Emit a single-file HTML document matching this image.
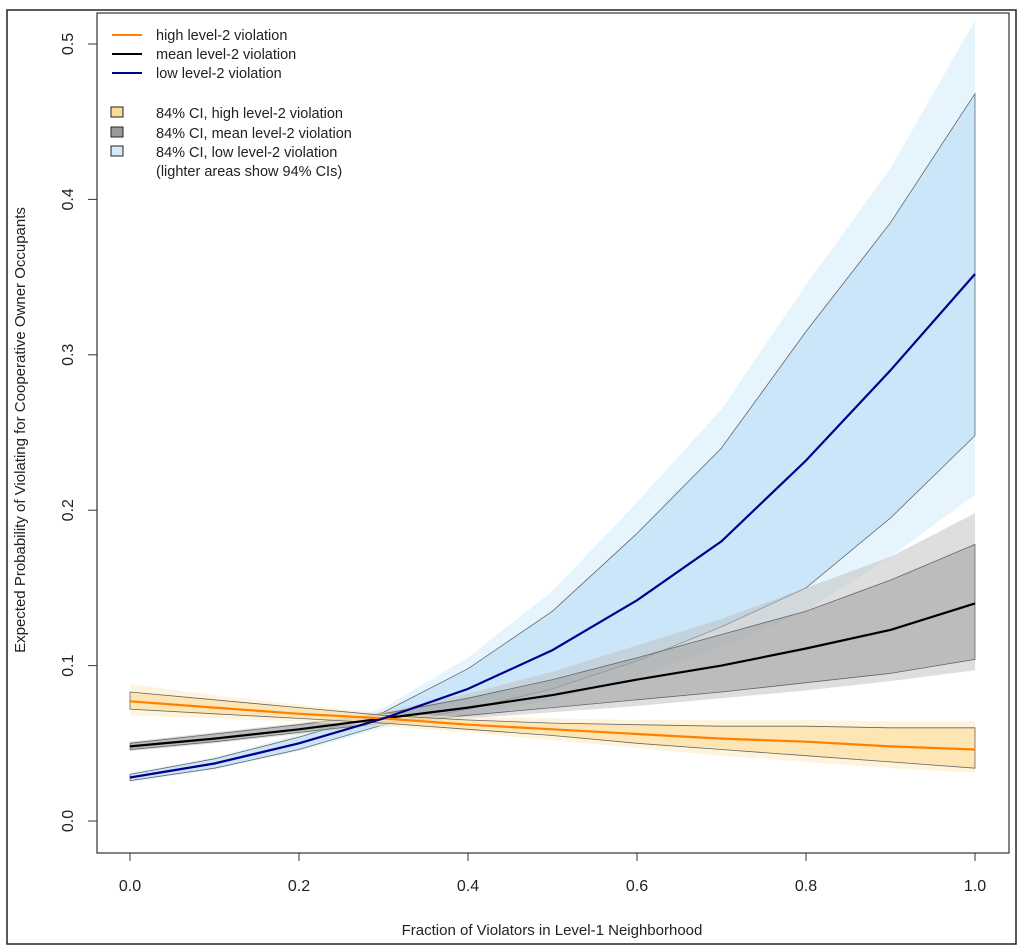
<!DOCTYPE html>
<html><head><meta charset="utf-8">
<style>
body{margin:0;background:#fff;}
svg{display:block;font-family:"Liberation Sans",Arial,sans-serif;}
</style></head>
<body>
<svg id="chart" width="1024" height="952">
<rect x="7" y="10" width="1009" height="934" fill="none" stroke="#222" stroke-width="1.5"/>
<g id="bands"></g>
<g id="lines"></g>
<rect x="97" y="13" width="912" height="840" fill="none" stroke="#333" stroke-width="1.2"/>
<g id="axes"></g>
<text x="552" y="935" text-anchor="middle" font-size="15" fill="#222">Fraction of Violators in Level-1 Neighborhood</text>
<text transform="translate(25,430) rotate(-90)" text-anchor="middle" font-size="15" fill="#222">Expected Probability of Violating for Cooperative Owner Occupants</text>
<g font-size="14.5" fill="#222">
<line x1="112" y1="35" x2="142" y2="35" stroke="#ff7f00" stroke-width="2"/>
<text x="156" y="40">high level-2 violation</text>
<line x1="112" y1="54" x2="142" y2="54" stroke="#000" stroke-width="2"/>
<text x="156" y="59">mean level-2 violation</text>
<line x1="112" y1="73" x2="142" y2="73" stroke="#00008b" stroke-width="2"/>
<text x="156" y="78">low level-2 violation</text>
<rect x="111" y="107" width="12" height="10" fill="#fbdc9a" stroke="#222"/>
<text x="156" y="118">84% CI, high level-2 violation</text>
<rect x="111" y="127" width="12" height="10" fill="#999" stroke="#222"/>
<text x="156" y="138">84% CI, mean level-2 violation</text>
<rect x="111" y="146" width="12" height="10" fill="#d4eafa" stroke="#222"/>
<text x="156" y="157">84% CI, low level-2 violation</text>
<text x="156" y="176">(lighter areas show 94% CIs)</text>
</g>
</svg>
<script>
const xs = [0,0.1,0.2,0.3,0.4,0.5,0.6,0.7,0.8,0.9,1.0];
const lowMean = [0.028,0.037,0.050,0.066,0.085,0.110,0.142,0.180,0.232,0.290,0.352];
const lowUp84 = [0.030,0.040,0.054,0.070,0.098,0.135,0.185,0.240,0.315,0.385,0.468];
const lowLo84 = [0.026,0.034,0.046,0.062,0.072,0.085,0.103,0.125,0.150,0.195,0.248];
const lowUp94 = [0.031,0.041,0.056,0.073,0.105,0.148,0.205,0.265,0.345,0.420,0.515];
const lowLo94 = [0.025,0.033,0.045,0.060,0.068,0.078,0.093,0.112,0.135,0.170,0.210];
const midMean = [0.048,0.053,0.059,0.066,0.073,0.081,0.091,0.100,0.111,0.123,0.140];
const midUp84 = [0.050,0.056,0.062,0.069,0.079,0.091,0.105,0.120,0.135,0.155,0.178];
const midLo84 = [0.046,0.051,0.057,0.063,0.068,0.073,0.078,0.083,0.089,0.095,0.104];
const midUp94 = [0.051,0.057,0.063,0.070,0.082,0.096,0.113,0.130,0.150,0.170,0.198];
const midLo94 = [0.045,0.050,0.056,0.062,0.066,0.070,0.074,0.079,0.084,0.090,0.097];
const hiMean = [0.077,0.073,0.069,0.066,0.062,0.059,0.056,0.053,0.051,0.048,0.046];
const hiUp84 = [0.083,0.078,0.073,0.068,0.065,0.063,0.062,0.061,0.061,0.060,0.060];
const hiLo84 = [0.072,0.069,0.066,0.063,0.059,0.055,0.050,0.046,0.042,0.038,0.034];
const hiUp94 = [0.088,0.081,0.075,0.069,0.067,0.066,0.065,0.065,0.065,0.064,0.064];
const hiLo94 = [0.068,0.066,0.064,0.061,0.057,0.052,0.047,0.042,0.038,0.034,0.031];
const xTicks = [0,0.2,0.4,0.6,0.8,1.0];
const xTickLabels = ["0.0","0.2","0.4","0.6","0.8","1.0"];
const yTicks = [0,0.1,0.2,0.3,0.4,0.5];
const yTickLabels = ["0.0","0.1","0.2","0.3","0.4","0.5"];

const NS="http://www.w3.org/2000/svg";
const X = v => 130 + v*845;
const Y = v => 821 - v*1554;
function mk(tag, attrs, parent){const e=document.createElementNS(NS,tag);for(const k in attrs)e.setAttribute(k,attrs[k]);parent.appendChild(e);return e;}
function pts(arr){return arr.map((v,i)=>X(xs[i]).toFixed(1)+","+Y(v).toFixed(1));}
const bands=document.getElementById('bands'), lines=document.getElementById('lines'), axes=document.getElementById('axes');
function band(up,lo,fill,op,name,edge){
  const p = mk('polygon',{points:pts(up).concat(pts(lo).reverse()).join(' '),fill:fill,'fill-opacity':op,stroke:edge?'#666':'none','stroke-width':0.8},bands);
  
  
}
band(lowUp94,lowLo94,'#d6ecfb',0.6,'low-ci94-band',false);
band(lowUp84,lowLo84,'#b9dcf5',0.6,'low-ci84-band',true);
band(midUp94,midLo94,'#bdbdbd',0.5,'mean-ci94-band',false);
band(midUp84,midLo84,'#9a9a9a',0.5,'mean-ci84-band',true);
band(hiUp94,hiLo94,'#fdebc6',0.6,'high-ci94-band',false);
band(hiUp84,hiLo84,'#fbdc9a',0.6,'high-ci84-band',true);
function line(arr,color,name){
  const l=mk('polyline',{points:pts(arr).join(' '),fill:'none',stroke:color,'stroke-width':2.2},lines);
  
  
}
line(midMean,'#000','mean-line');
line(hiMean,'#ff7f00','high-line');
line(lowMean,'#00008b','low-line');
xTicks.forEach((t,i)=>{
  const tk=mk('line',{x1:X(t),x2:X(t),y1:853,y2:861,stroke:'#333'},axes);
  
  
  const lb=mk('text',{x:X(t),y:891,'text-anchor':'middle','font-size':16,fill:'#222'},axes);
  lb.textContent=xTickLabels[i];
  
  
});
yTicks.forEach((t,i)=>{
  const tk=mk('line',{x1:88,x2:97,y1:Y(t),y2:Y(t),stroke:'#333'},axes);
  
  
  const lb=mk('text',{transform:`translate(73,${Y(t)}) rotate(-90)`,'text-anchor':'middle','font-size':16,fill:'#222'},axes);
  lb.textContent=yTickLabels[i];
  
  
});
</script>
</body></html>
